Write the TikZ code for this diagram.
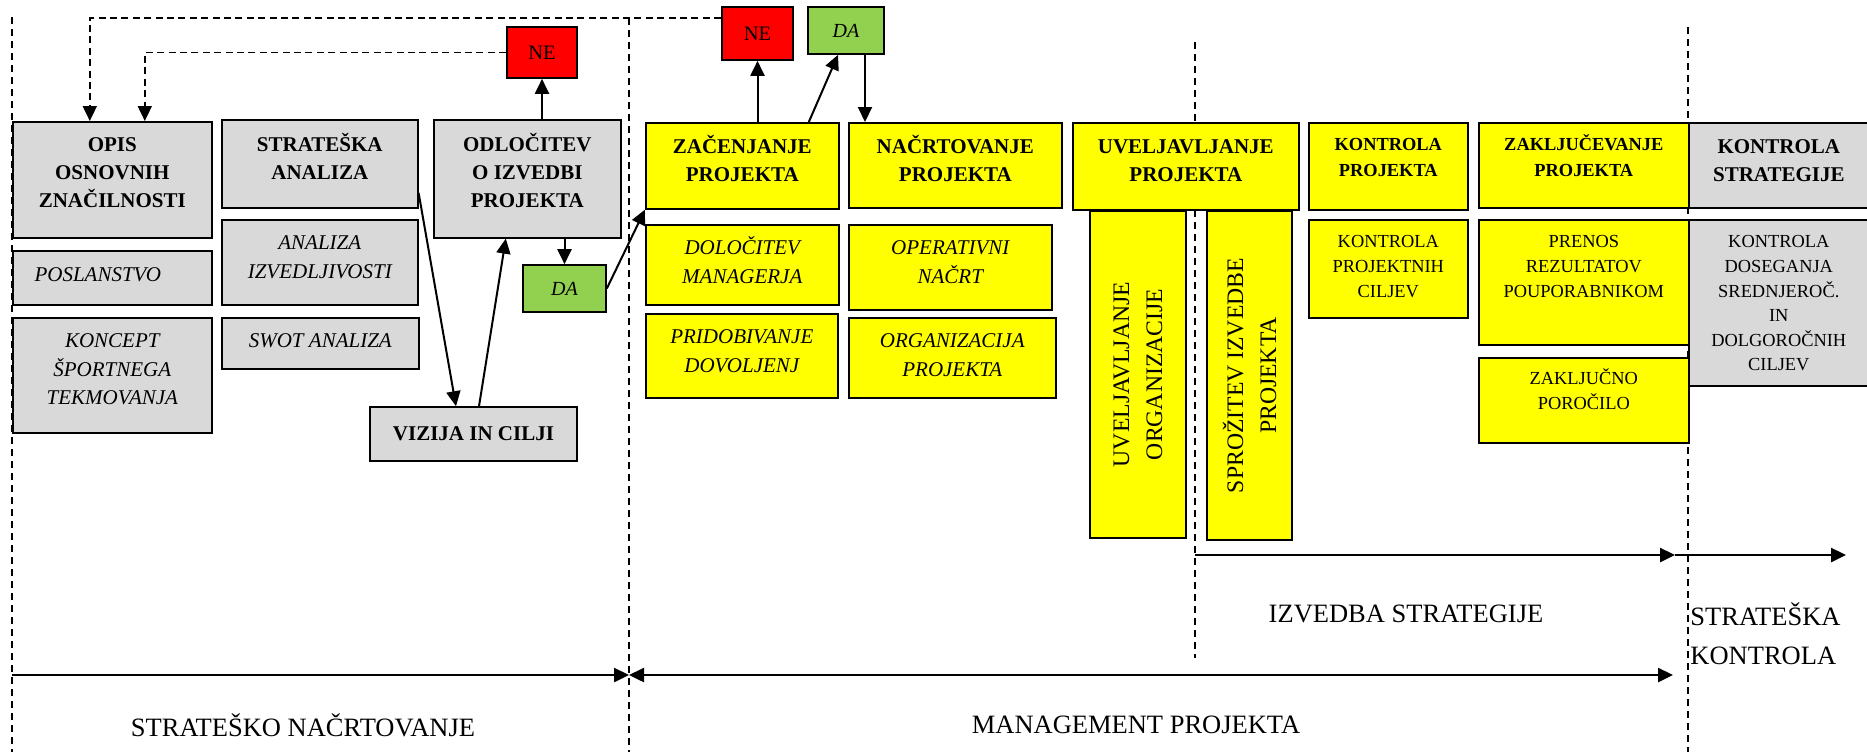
\documentclass[tikz,border=0pt]{standalone}
\usepackage{fontspec}
\setmainfont{Liberation Serif}
\usepackage{xcolor}
\usetikzlibrary{arrows.meta, positioning}
\definecolor{boxgrey}{HTML}{D9D9D9}
\definecolor{boxyellow}{HTML}{FFFF00}
\definecolor{nered}{HTML}{FF0000}
\definecolor{dagreen}{HTML}{92D050}
% text at the top of a box of given size
\newcommand{\bx}[4][15pt]{\parbox[c][#3][t]{#2}{\centering\rule{0pt}{#1}#4}}

\begin{document}
\begin{tikzpicture}[x=0.5pt, y=-0.5pt, >={Triangle[length=7.5pt,width=7pt]},
    box/.style={draw, line width=0.8pt, inner sep=0pt, anchor=north west},
    gbox/.style={box, fill=boxgrey},
    ybox/.style={box, fill=boxyellow},
    tit/.style={font=\bfseries\fontsize{10.5pt}{14pt}\selectfont},
    titsm/.style={font=\bfseries\fontsize{9.2pt}{12.8pt}\selectfont},
    itl/.style={font=\itshape\fontsize{10.5pt}{14.2pt}\selectfont},
    txt/.style={font=\fontsize{9.2pt}{12.3pt}\selectfont},
    vtxt/.style={font=\fontsize{11.85pt}{16.5pt}\selectfont, rotate=90, align=center, anchor=center},
    nebox/.style={draw, line width=0.8pt, fill=nered, inner sep=0pt, font=\fontsize{10.25pt}{12pt}\selectfont},
    dabox/.style={draw, line width=0.8pt, fill=dagreen, inner sep=0pt, font=\itshape\fontsize{10pt}{12pt}\selectfont},
    arr/.style={->, line width=1pt},
    axis/.style={->, line width=1.2pt},
    fback/.style={->, line width=0.9pt, dash pattern=on 3.5pt off 2.2pt},
    divline/.style={line width=0.6pt, dash pattern=on 3.5pt off 2.5pt},
    lbl/.style={inner sep=0pt, font=\fontsize{13.25pt}{19.5pt}\selectfont}]
    \useasboundingbox (0,0) rectangle (1867,752);
    \clip (0,0) rectangle (1867,752);

    % phase borders
    \draw[divline] (12,17)--(12,752);
    \draw[divline] (629,18)--(629,752);
    \draw[divline] (1195,42)--(1195,658);
    \draw[divline] (1688,27)--(1688,752);

    % strategic planning
    \node[gbox,tit] (opis) at (12,121) {\bx{99.5pt}{58pt}{OPIS\\OSNOVNIH\\ZNAČILNOSTI}};
    \node[gbox,itl] (posl) at (12,250) {\bx[15.5pt]{99.5pt}{27pt}{POSLANSTVO\hspace*{14.5pt}}};
    \node[gbox,itl] (konc) at (12,317) {\bx{99.5pt}{57.5pt}{KONCEPT\\ŠPORTNEGA\\TEKMOVANJA}};
    \node[gbox,tit] (stran) at (221,119) {\bx[16pt]{98pt}{44pt}{STRATEŠKA\\ANALIZA}};
    \node[gbox,itl] (izved) at (221,219) {\bx{98pt}{42.5pt}{ANALIZA\\IZVEDLJIVOSTI}};
    \node[gbox,itl] (swot) at (221,317) {\bx{98.5pt}{25.5pt}{SWOT ANALIZA}};
    \node[gbox,tit] (odloc) at (433,119) {\bx[16pt]{93.5pt}{59pt}{ODLOČITEV\\O IZVEDBI\\PROJEKTA}};
    \node[gbox,tit,anchor=center,minimum width=103.5pt,minimum height=27pt] (vizija) at (473.5,434) {VIZIJA IN CILJI};
    \node[nebox,minimum width=35pt,minimum height=25.5pt] (ne1) at (542,52.5) {NE};
    \node[dabox,minimum width=41.5pt,minimum height=23.5pt] (da1) at (564.5,288.5) {DA};

    % project management
    \node[nebox,minimum width=35.5pt,minimum height=26.5pt] (ne2) at (757.5,33.5) {NE};
    \node[dabox,minimum width=38pt,minimum height=23.5pt] (da2) at (846,30.5) {DA};
    \node[ybox,tit] (zac) at (645,122) {\bx[15.5pt]{96.5pt}{43pt}{ZAČENJANJE\\PROJEKTA}};
    \node[ybox,itl] (dolo) at (645,224) {\bx{96.5pt}{40pt}{DOLOČITEV\\MANAGERJA}};
    \node[ybox,itl] (prid) at (645,313) {\bx{96pt}{42pt}{PRIDOBIVANJE\\DOVOLJENJ}};
    \node[ybox,tit] (nacrt) at (848,122) {\bx[15.5pt]{106.5pt}{42.5pt}{NAČRTOVANJE\\PROJEKTA}};
    \node[ybox,itl] (oper) at (848,224) {\bx{101.5pt}{42.5pt}{OPERATIVNI\\NAČRT}};
    \node[ybox,itl] (orgp) at (848,317) {\bx{103.5pt}{40pt}{ORGANIZACIJA\\PROJEKTA}};
    \node[ybox,tit] (uvel) at (1072,122) {\bx[15.5pt]{113pt}{43.5pt}{UVELJAVLJANJE\\PROJEKTA}};
    \node[ybox,vtxt,minimum width=163.5pt,minimum height=48pt] (uorg) at (1138,374.5) {UVELJAVLJANJE\\ORGANIZACIJE};
    \node[ybox,vtxt,minimum width=164.5pt,minimum height=42.5pt] (sproz) at (1249.5,375.5) {SPROŽITEV IZVEDBE\\PROJEKTA};
    \node[ybox,titsm] (kproj) at (1308,122) {\bx[14pt]{79.5pt}{43.5pt}{KONTROLA\\PROJEKTA}};
    \node[ybox,txt] (kcilj) at (1308,219) {\bx[14pt]{79.5pt}{49pt}{KONTROLA\\PROJEKTNIH\\CILJEV}};
    \node[ybox,titsm] (zakl) at (1478,122) {\bx[14pt]{105pt}{42.5pt}{ZAKLJUČEVANJE\\PROJEKTA}};
    \node[ybox,txt] (prenos) at (1478,219) {\bx[14pt]{105pt}{62.5pt}{PRENOS\\REZULTATOV\\POUPORABNIKOM}};
    \node[ybox,txt] (zpor) at (1478,357) {\bx[13.5pt]{105pt}{42.5pt}{ZAKLJUČNO\\POROČILO}};

    % strategic control
    \node[gbox,tit] (kstrat) at (1688,122) {\bx[15.5pt]{90pt}{42.5pt}{KONTROLA\\STRATEGIJE}};
    \node[gbox,txt] (kdos) at (1688,219) {\bx[14pt]{90pt}{83pt}{KONTROLA\\DOSEGANJA\\SREDNJEROČ.\\IN\\DOLGOROČNIH\\CILJEV}};

    % decisions
    \draw[fback] ([yshift=7.75pt]ne2.west) -| ([xshift=-11.25pt]opis.north);
    \draw[fback] (ne1.west) -| ([xshift=16.25pt]opis.north);
    \draw[arr] (odloc.north -| ne1.south) -- (ne1.south);
    \draw[arr] (odloc.south -| da1.north) -- (da1.north);
    \draw[arr] ([yshift=-14.5pt]stran.east) -- ([xshift=-8.75pt]vizija.north);
    \draw[arr] ([xshift=2.75pt]vizija.north) -- ([xshift=-10.75pt]odloc.south);
    \draw[arr] (da1.east) -- (zac.south west);
    \draw[arr] (zac.north -| ne2.south) -- (ne2.south);
    \draw[arr] ([xshift=33.25pt]zac.north) -- ([xshift=-4pt]da2.south);
    \draw[arr] ([xshift=9.5pt]da2.south) -- ([xshift=8.5pt]nacrt.north west);

    % time axis
    \coordinate (s0) at (12,675);
    \coordinate (s1) at (629,675);
    \coordinate (m1) at (1673,675);
    \coordinate (e0) at (1195,555);
    \coordinate (e1) at (1675,555);
    \coordinate (e2) at (1846,555);
    \draw[axis] (s0) -- (s1);
    \draw[axis,<->] (s1) -- (m1);
    \draw[axis] (e0) -- (e1);
    \draw[axis] (e1) -- (e2);

    \node[lbl] (sn) at (303,725) {STRATEŠKO NAČRTOVANJE};
    \node[lbl] (mp) at (1136,725) {MANAGEMENT PROJEKTA};
    \node[lbl] (is) at (1406,614) {IZVEDBA STRATEGIJE};
    \node[lbl,anchor=west,align=left] (sk) at (1690,634) {STRATEŠKA\\KONTROLA};
\end{tikzpicture}
\end{document}
